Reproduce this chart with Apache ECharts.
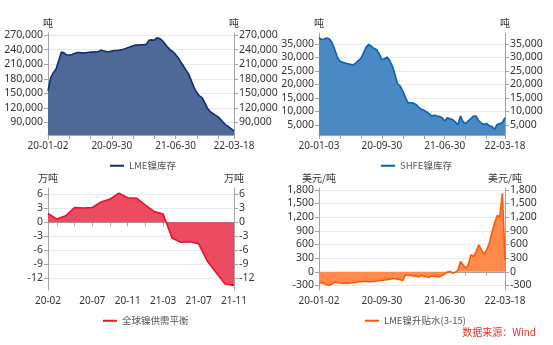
<!DOCTYPE html>
<html><head><meta charset="utf-8">
<script src="https://cdn.jsdelivr.net/npm/echarts@6/dist/echarts.min.js"></script>
<style>html,body{margin:0;padding:0;background:#fff}#c{width:553px;height:345px}</style>
</head><body><div id="c"></div><script>
// ---- Panel 1: LME nickel stock (tonnes)
const lmeDates = ['20-01-02','20-01-13','20-01-24','20-02-05','20-02-17','20-02-28','20-03-11','20-03-23','20-04-03','20-04-15','20-04-27','20-05-08','20-05-20','20-06-01','20-06-12','20-06-24','20-07-06','20-07-17','20-07-29','20-08-10','20-08-21','20-09-02','20-09-14','20-09-21','20-09-30','20-10-12','20-10-23','20-11-04','20-11-16','20-11-27','20-12-09','20-12-21','21-01-04','21-01-14','21-01-26','21-02-08','21-02-18','21-03-02','21-03-12','21-03-24','21-04-06','21-04-16','21-04-28','21-05-10','21-05-20','21-06-01','21-06-11','21-06-21','21-06-30','21-07-12','21-07-23','21-08-04','21-08-16','21-08-27','21-09-08','21-09-20','21-10-01','21-10-13','21-10-25','21-11-05','21-11-17','21-11-29','21-12-10','21-12-22','22-01-04','22-01-14','22-01-26','22-02-08','22-02-21','22-03-04','22-03-18'];
const lmeStock = [155000,182000,192500,199500,216500,235000,233500,229500,229000,230300,232300,234400,234400,233000,233700,234400,235100,235100,235800,236400,239200,237100,236400,235800,237100,238500,238500,239200,240500,241900,244000,246000,248100,249500,249500,250100,250100,251000,259700,260400,259700,264500,263200,259000,252200,245300,239900,235800,230300,223400,214500,206300,197400,189200,175500,161800,151500,144700,141200,130900,119300,112500,108400,105000,101500,96000,89900,84400,81000,76800,72700];
const lmeTicks = [90000,120000,150000,180000,210000,240000,270000];

// ---- Panel 2: SHFE nickel stock (tonnes)
const shfeDates = ['20-01-03','20-01-13','20-01-24','20-02-05','20-02-17','20-02-28','20-03-11','20-03-23','20-04-03','20-04-15','20-04-27','20-05-08','20-05-20','20-06-01','20-06-12','20-06-24','20-07-06','20-07-17','20-07-29','20-08-10','20-08-21','20-09-02','20-09-14','20-09-21','20-09-30','20-10-12','20-10-23','20-11-04','20-11-16','20-11-27','20-12-09','20-12-21','21-01-04','21-01-14','21-01-26','21-02-08','21-02-18','21-03-02','21-03-12','21-03-24','21-04-06','21-04-16','21-04-28','21-05-10','21-05-20','21-06-01','21-06-11','21-06-21','21-06-30','21-07-12','21-07-22','21-08-03','21-08-13','21-08-25','21-09-06','21-09-16','21-09-28','21-10-11','21-10-21','21-11-01','21-11-11','21-11-23','21-12-03','21-12-15','21-12-27','22-01-07','22-01-19','22-01-31','22-02-14','22-02-24','22-03-08','22-03-18'];
const shfeStock = [37200,36600,36800,37200,36800,35400,32900,30100,28600,28200,27900,27600,27400,27100,27900,28800,29600,31700,33800,34800,34100,33300,32800,31300,29200,29500,30100,28800,26800,23700,20200,19400,17500,15100,13200,13200,13100,12600,11600,10800,10500,9900,9200,8300,8600,8300,8100,7700,6500,7700,7300,7000,6200,5000,8300,6200,5500,6500,7400,8300,8300,6500,5700,5200,5600,4700,4400,3400,5200,5500,5900,7700];
const shfeTicks = [5000,10000,15000,20000,25000,30000,35000];

// ---- Panel 3: global nickel supply-demand balance (10k tonnes)
const balanceMonths = ['20-02','20-03','20-04','20-05','20-06','20-07','20-08','20-09','20-10','20-11','20-12','21-01','21-02','21-03','21-04','21-05','21-06','21-07','21-08','21-09','21-10','21-11'];
const balanceValues = [1.9,0.7,1.4,3.2,3.1,3.2,4.4,5.0,6.3,5.3,5.2,3.7,2.3,1.8,-3.4,-4.3,-4.2,-4.6,-8.4,-10.9,-13.3,-13.6];
const balanceTicks = [-12,-9,-6,-3,0,3,6];

// ---- Panel 4: LME nickel 3-15 spread (USD/t)
const spreadDates = ['20-01-02'].concat(shfeDates.slice(1));
const spreadValues = [-248,-234,-263,-285,-292,-270,-226,-241,-248,-255,-248,-255,-248,-241,-234,-219,-219,-212,-212,-219,-219,-212,-204,-197,-190,-182,-175,-161,-153,-153,-161,-175,-190,-66,-80,-73,-95,-88,-110,-80,-95,-110,-124,-88,-95,-110,-110,-80,-44,-7,7,-29,-15,29,226,153,80,153,372,336,445,591,482,394,482,628,861,1066,1234,1210,1723,263];
const spreadTicks = [-300,0,300,600,900,1200,1500,1800];

const FONT = '"Noto Sans", "Noto Sans CJK SC", sans-serif';
const CJK = '"Noto Sans CJK SC", "Noto Sans", sans-serif';
const TXT = '#333';
const fmt = v => String(v).replace(/\B(?=(\d{3})+(?!\d))/g, ',');

const panels = [
  {name:'LME镍库存', unit:'吨', cats:lmeDates, data:lmeStock, ticks:lmeTicks, min:64000, max:274500,
   left:48, top:33, line:'#0f2f6f', fill:'#4e6997', legendLeft:105, legendTop:156,
   tickFn:(i)=>i%8===0||i===lmeDates.length-1, labelFn:(i)=>i===0||i===24||i===48||i===lmeDates.length-1},
  {name:'SHFE镍库存', unit:'吨', cats:shfeDates, data:shfeStock, ticks:shfeTicks, min:1300, max:39000,
   left:319, top:33, line:'#0b60b0', fill:'#4a89c4', legendLeft:376, legendTop:156,
   tickFn:(i)=>i%8===0||i===shfeDates.length-1, labelFn:(i)=>i===0||i===24||i===48||i===shfeDates.length-1},
  {name:'全球镍供需平衡', unit:'万吨', cats:balanceMonths, data:balanceValues, ticks:balanceTicks, min:-14.6, max:7.4,
   left:48, top:188, line:'#e8102c', fill:'#ec4b62', legendLeft:98, legendTop:311,
   tickFn:(i)=>i===0||i%2===1, labelFn:(i)=>i===0||(i%4===1&&i>1)},
  {name:'LME镍升贴水(3-15)', unit:'美元/吨', cats:spreadDates, data:spreadValues, ticks:spreadTicks, min:-400, max:1840,
   left:319, top:188, line:'#ff5a0a', fill:'#ff8a4c', legendLeft:360, legendTop:311,
   tickFn:(i)=>i%8===0||i===spreadDates.length-1, labelFn:(i)=>i===0||i===24||i===48||i===spreadDates.length-1}
];

const grid=[], xAxis=[], yAxis=[], series=[], legend=[];
panels.forEach((p, k) => {
  grid.push({left:p.left, top:p.top, width:186, height:102, containLabel:false});
  xAxis.push({
    type:'category', gridIndex:k, data:p.cats, boundaryGap:false,
    axisLine:{lineStyle:{color:'#a0a4ab', width:1}},
    axisTick:{show:true, interval:p.tickFn, length:4, lineStyle:{color:'#a0a4ab'}},
    axisLabel:{interval:p.labelFn, margin:6, color:TXT, fontSize:10, fontFamily:FONT, showMinLabel:true, showMaxLabel:true, hideOverlap:false},
    splitLine:{show:false}
  });
  ['left','right'].forEach((pos, j) => {
    yAxis.push({
      type:'value', gridIndex:k, position:pos, min:p.min, max:p.max,
      name:p.unit, nameLocation:'end', nameGap:5,
      nameTextStyle:{color:TXT, fontSize:10, fontFamily:CJK, align:'center', verticalAlign:'bottom'},
      axisLine:{show:true, lineStyle:{color:'#a0a4ab', width:1}},
      axisTick:{show:true, length:4, customValues:p.ticks, lineStyle:{color:'#a0a4ab'}},
      axisLabel:{customValues:p.ticks, margin:5, color:TXT, fontSize:10.5, fontFamily:FONT, formatter:v=>fmt(v)},
      splitLine:{show:j===0, lineStyle:{color:'#e6e9f2', width:1}}
    });
  });
  series.push({
    type:'line', name:p.name, xAxisIndex:k, yAxisIndex:k*2, data:p.data,
    symbol:'none', smooth:false, animation:false,
    lineStyle:{color:p.line, width:1.6}, itemStyle:{color:p.line},
    areaStyle:{color:p.fill, opacity:1}
  });
  legend.push({
    data:[p.name], left:p.legendLeft, top:p.legendTop, icon:'rect', itemWidth:14, itemHeight:2, itemGap:4,
    textStyle:{color:'#555', fontSize:9.5, fontFamily:CJK}, selectedMode:false
  });
});

const chart = echarts.init(document.getElementById('c'), null, {renderer:'canvas'});
chart.setOption({
  animation:false, backgroundColor:'#fff', textStyle:{fontFamily:FONT},
  grid, xAxis, yAxis, series, legend,
  graphic:[{type:'text', right:17, top:327, style:{text:'数据来源：Wind', fill:'#e0312c', fontSize:10, fontFamily:CJK}}]
});
</script></body></html>
